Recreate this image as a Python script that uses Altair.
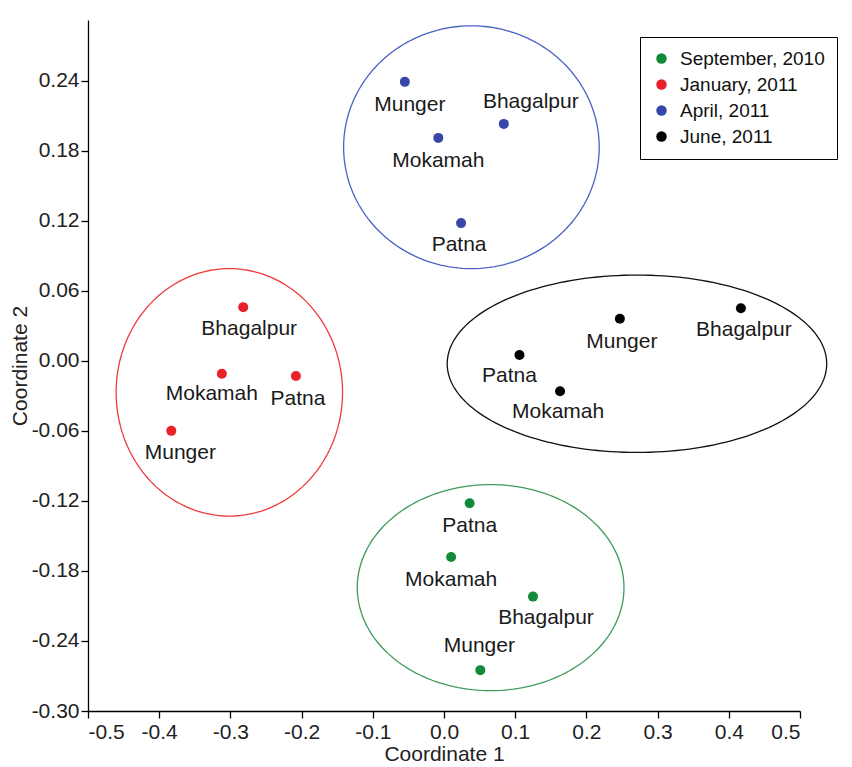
import altair as alt
import numpy as np
import pandas as pd

# ---- data ----
seasons = ["September, 2010", "January, 2011", "April, 2011", "June, 2011"]
dot_colors = ["#138a3a", "#e8212b", "#3548a8", "#000000"]
ring_colors = ["#3f9a5c", "#ee3a3a", "#4a62c4", "#111111"]

sites = ["Patna", "Mokamah", "Bhagalpur", "Munger"]
sep_x = [0.036, 0.010, 0.125, 0.051]
sep_y = [-0.122, -0.168, -0.202, -0.265]
jan_x = [-0.208, -0.312, -0.282, -0.383]
jan_y = [-0.013, -0.011, 0.046, -0.060]
apr_x = [0.024, -0.008, 0.084, -0.055]
apr_y = [0.118, 0.191, 0.203, 0.239]
jun_x = [0.106, 0.163, 0.417, 0.247]
jun_y = [0.005, -0.026, 0.045, 0.036]

# ellipse centres and radii (data units), one per season
ell_cx = [0.0655, -0.3015, 0.0385, 0.271]
ell_cy = [-0.1943, -0.027, 0.183, -0.0025]
ell_rx = [0.1873, 0.159, 0.1795, 0.2665]
ell_ry = [0.0883, 0.106, 0.104, 0.076]

x_ticks = [-0.5, -0.4, -0.3, -0.2, -0.1, 0.0, 0.1, 0.2, 0.3, 0.4, 0.5]
y_ticks = [-0.30, -0.24, -0.18, -0.12, -0.06, 0.00, 0.06, 0.12, 0.18, 0.24]

# label offsets in pixels (style), per season, per site order above
label_dx = [[0, 0, 13, -1], [2, -10, 6, 9], [-2, 0, 27, 5], [-10, -2, 3, 2]]
label_dy = [[23, 23, 21, -24], [23, 20, 22, 22], [22, 23, -22, 23], [21, 21, 22, 23]]

# ---- tables ----
xs = [sep_x, jan_x, apr_x, jun_x]
ys = [sep_y, jan_y, apr_y, jun_y]
rows = []
for si, s in enumerate(seasons):
    for k, site in enumerate(sites):
        rows.append({"season": s, "site": site, "x": xs[si][k], "y": ys[si][k],
                     "si": si, "k": k})
pts = pd.DataFrame(rows)

t = np.linspace(0, 2 * np.pi, 181)
erows = []
for si, s in enumerate(seasons):
    for i, tt in enumerate(t):
        erows.append({"si": si, "i": i,
                      "x": ell_cx[si] + ell_rx[si] * np.cos(tt),
                      "y": ell_cy[si] + ell_ry[si] * np.sin(tt)})
ell = pd.DataFrame(erows)

FONT = "Liberation Sans"

xscale = alt.Scale(domain=[-0.5, 0.5], nice=False, zero=False)
yscale = alt.Scale(domain=[-0.30, 0.292], nice=False, zero=False)

xenc = alt.X("x:Q", scale=xscale, axis=alt.Axis(
    title="Coordinate 1", values=x_ticks,
    labelExpr="replace(format(datum.value, '.1f'), '\u2212', '-')"))
yenc = alt.Y("y:Q", scale=yscale, axis=alt.Axis(
    title="Coordinate 2", values=y_ticks,
    labelExpr="replace(format(datum.value, '.2f'), '\u2212', '-')"))

dots = alt.Chart(pts).mark_circle(size=100, opacity=1).encode(
    x=xenc, y=yenc,
    color=alt.Color("season:N", scale=alt.Scale(domain=seasons, range=dot_colors),
                    legend=alt.Legend(title=None, orient="none", legendX=552, legendY=17,
                                      strokeColor="#000", fillColor="#fff", padding=12,
                                      labelFontSize=19, labelFont=FONT, labelColor="#111",
                                      symbolType="circle", symbolSize=110, rowPadding=6,
                                      labelOffset=9, symbolStrokeWidth=0)),
)

rings = []
for si in range(len(seasons)):
    rings.append(
        alt.Chart(ell).transform_filter(alt.datum.si == si).mark_line(
            strokeWidth=1.3, clip=False, color=ring_colors[si]).encode(
            x=alt.X("x:Q", scale=xscale),
            y=alt.Y("y:Q", scale=yscale),
            order="i:Q")
    )

labels = []
for _, r in pts.iterrows():
    si, k = int(r["si"]), int(r["k"])
    labels.append(
        alt.Chart(pts).transform_filter(
            (alt.datum.si == si) & (alt.datum.k == k)
        ).mark_text(font=FONT, fontSize=21, color="#1a1a1a", align="center",
                    baseline="middle", dx=label_dx[si][k], dy=label_dy[si][k]).encode(
            x=alt.X("x:Q", scale=xscale),
            y=alt.Y("y:Q", scale=yscale),
            text="site:N")
    )

chart = alt.layer(dots, *rings, *labels).properties(
    width=712, height=691,
    autosize=alt.AutoSizeParams(type="none"),
    padding={"left": 80, "top": 12, "right": 40, "bottom": 56},
).configure_view(stroke=None).configure_axis(
    grid=False, domainColor="#000", tickColor="#000", domainWidth=1.3, tickWidth=1.3,
    tickSize=7, labelFont=FONT, labelFontSize=21, labelColor="#222",
    titleFont=FONT, titleFontSize=21, titleFontWeight="normal", titleColor="#222",
).configure_axisX(labelPadding=3, titlePadding=1).configure_axisY(labelPadding=2, titlePadding=1)

chart.save("out.html", embed_options={"renderer": "svg", "actions": False})
